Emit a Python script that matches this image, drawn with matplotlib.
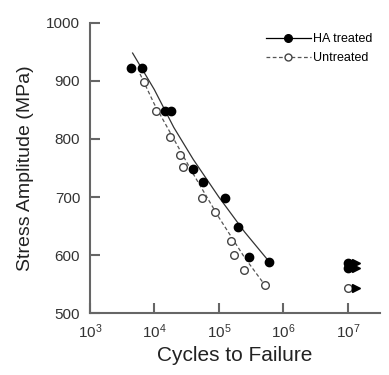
import numpy as np
import matplotlib
matplotlib.use("Agg")
import matplotlib.pyplot as plt

plt.rcParams['font.family'] = ['Liberation Sans', 'DejaVu Sans']
plt.rcParams['mathtext.fontset'] = 'custom'
plt.rcParams['mathtext.rm'] = 'Liberation Sans'
plt.rcParams['mathtext.it'] = 'Liberation Sans'

# HA treated specimens (cycles, stress MPa)
ha_cycles = [4.4e3, 6.5e3, 1.45e4, 1.8e4, 4.0e4, 5.6e4, 1.23e5, 1.95e5, 2.9e5, 6.1e5]
ha_stress = [922, 922, 848, 848, 748, 726, 698, 649, 597, 588]

# Untreated specimens
un_cycles = [7.0e3, 1.05e4, 1.75e4, 2.5e4, 2.8e4, 5.5e4, 8.8e4, 1.55e5, 1.7e5, 2.5e5, 5.2e5]
un_stress = [898, 848, 804, 772, 752, 698, 674, 624, 600, 574, 548]

# run-outs at 1e7 cycles
ha_runout_stress = [586, 577]
un_runout_stress = [544]
runout_cycles = 1.0e7
arrow_cycles = 1.35e7

# trend lines
ha_fit_cycles = [4.6e3, 1.0e4, 2.0e4, 4.0e4, 1.0e5, 2.5e5, 6.1e5]
ha_fit_stress = [948, 885, 820, 765, 700, 640, 588]
un_fit_cycles = [6.0e3, 1.0e4, 2.0e4, 4.0e4, 1.0e5, 2.5e5, 5.2e5]
un_fit_stress = [912, 860, 800, 740, 665, 596, 548]

fig = plt.figure(figsize=(3.89, 3.75), dpi=100)
ax = fig.add_axes([0.231, 0.165, 0.746, 0.774])

ax.plot(ha_fit_cycles, ha_fit_stress, '-', color='#333333', lw=0.9)
ax.plot(un_fit_cycles, un_fit_stress, '--', color='#555555', lw=0.9, dashes=(3, 2))
ax.plot(ha_cycles, ha_stress, 'o', color='black', ms=6, mec='black')
ax.plot(un_cycles, un_stress, 'o', mfc='white', mec='#444444', ms=5.5, mew=1.0)

ax.plot([runout_cycles] * 2, ha_runout_stress, 'o', color='black', ms=6)
ax.plot([arrow_cycles] * 2, ha_runout_stress, '>', color='black', ms=5.5)
ax.plot([runout_cycles], un_runout_stress, 'o', mfc='white', mec='#444444', ms=5.5, mew=1.0)
ax.plot([arrow_cycles], un_runout_stress, '>', color='black', ms=5.5)

# legend handles
h1, = ax.plot([], [], '-o', color='black', lw=0.9, ms=5.5, label='HA treated')
h2, = ax.plot([], [], '--o', color='#555555', mfc='white', mec='#444444',
              lw=0.9, ms=5, dashes=(3, 2), label='Untreated')
leg = ax.legend(handles=[h1, h2], loc='upper right', bbox_to_anchor=(1.0, 0.99),
                frameon=False, fontsize=9, handlelength=3.6, handletextpad=0.2,
                labelspacing=0.55, borderaxespad=0.2)

ax.set_xscale('log')
ax.set_xlim(1e3, 10 ** 7.5)
ax.set_ylim(500, 1000)
ax.set_yticks([500, 600, 700, 800, 900, 1000])
ax.set_xticks([1e3, 1e4, 1e5, 1e6, 1e7])
ax.minorticks_off()

for s in ['top', 'right']:
    ax.spines[s].set_visible(False)
for s in ['left', 'bottom']:
    ax.spines[s].set_color('#666666')
    ax.spines[s].set_linewidth(1.5)
ax.tick_params(direction='in', length=7, width=1.5, color='#666666',
               labelsize=11, labelcolor='#333333', pad=7)

ax.set_xlabel('Cycles to Failure', fontsize=15, color='#222222', labelpad=3)
ax.set_ylabel('Stress Amplitude (MPa)', fontsize=14, color='#222222', labelpad=9)

fig.savefig('out.png', dpi=100)
